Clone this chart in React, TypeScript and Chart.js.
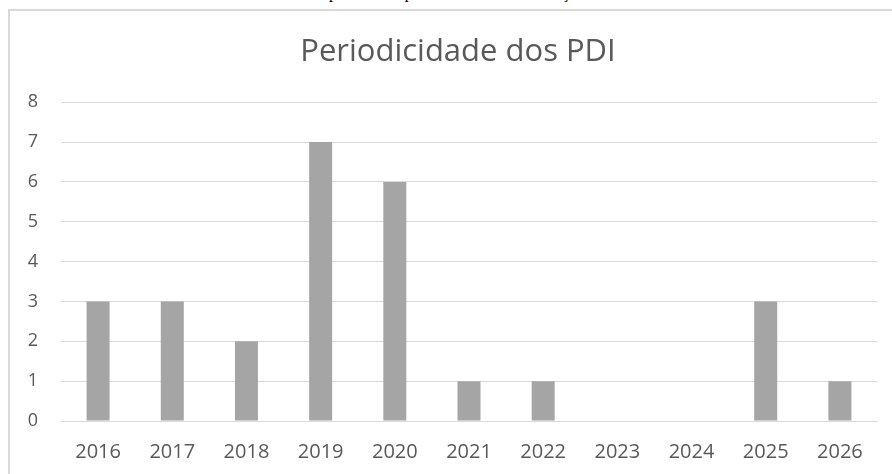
import React, { useEffect, useRef } from "react";
import { Chart, registerables } from "chart.js";

Chart.register(...registerables);

const years = ["2016", "2017", "2018", "2019", "2020", "2021", "2022", "2023", "2024", "2025", "2026"];
const counts = [3, 3, 2, 7, 6, 1, 1, 0, 0, 3, 1];
const yTicks = [0, 1, 2, 3, 4, 5, 6, 7, 8];
const chartTitle = "Periodicidade dos PDI";
const captionAbove = "Comparativo da periodicidade de elaboração dos PDI";

export default function App() {
  const ref = useRef<HTMLCanvasElement | null>(null);

  useEffect(() => {
    if (!ref.current) return;
    const font = '"Open Sans", sans-serif';
    const chart = new Chart(ref.current, {
      type: "bar",
      data: {
        labels: years,
        datasets: [
          {
            label: chartTitle,
            data: counts,
            backgroundColor: "#a5a5a5",
            borderWidth: 0,
            barPercentage: 0.31,
            categoryPercentage: 1,
          },
        ],
      },
      options: {
        responsive: false,
        animation: false,
        devicePixelRatio: 1,
        layout: { padding: { left: 0, right: 0, top: 0, bottom: 0 } },
        plugins: {
          legend: { display: false },
          tooltip: { enabled: false },
          title: {
            display: true,
            text: chartTitle,
            color: "#595959",
            font: { family: font, size: 31, weight: "normal" },
            padding: { top: 23, bottom: 31 },
          },
        },
        scales: {
          x: {
            afterFit: (s: any) => {
              s.height = 66;
            },
            grid: { display: false, drawTicks: false },
            border: { display: true, color: "#d9d9d9", width: 1 },
            ticks: {
              color: "#595959",
              font: { family: font, size: 20 },
              padding: 19,
              maxRotation: 0,
              autoSkip: false,
            },
          },
          y: {
            min: 0,
            max: 8,
            afterFit: (s: any) => {
              s.width = 51;
            },
            afterBuildTicks: (s: any) => {
              s.ticks = yTicks.map((v) => ({ value: v }));
            },
            grid: { color: "#d9d9d9", lineWidth: 1, drawTicks: false },
            border: { display: false },
            ticks: {
              color: "#595959",
              font: { family: font, size: 18 },
              padding: 23,
            },
          },
          spacer: {
            type: "linear",
            position: "right",
            display: true,
            afterFit: (s: any) => {
              s.width = 29;
            },
            grid: { display: false, drawTicks: false },
            border: { display: false },
            ticks: { display: false },
          },
        },
      },
    });
    return () => chart.destroy();
  }, []);

  return (
    <div
      style={{
        position: "absolute",
        left: 0,
        top: 0,
        width: 892,
        height: 474,
        overflow: "hidden",
        background: "#ffffff",
      }}
    >
      <div
        style={{
          position: "absolute",
          top: -15,
          left: 298,
          whiteSpace: "nowrap",
          fontFamily: '"Liberation Serif", "Times New Roman", serif',
          fontSize: 16,
          lineHeight: "16px",
          color: "#000",
        }}
      >
        {captionAbove}
      </div>
      <div
        style={{
          position: "absolute",
          left: 8,
          top: 9,
          width: 900,
          height: 480,
          border: "2px solid #d9d9d9",
          boxSizing: "border-box",
        }}
      >
        <canvas ref={ref} width={896} height={476} style={{ display: "block" }} />
      </div>
    </div>
  );
}
